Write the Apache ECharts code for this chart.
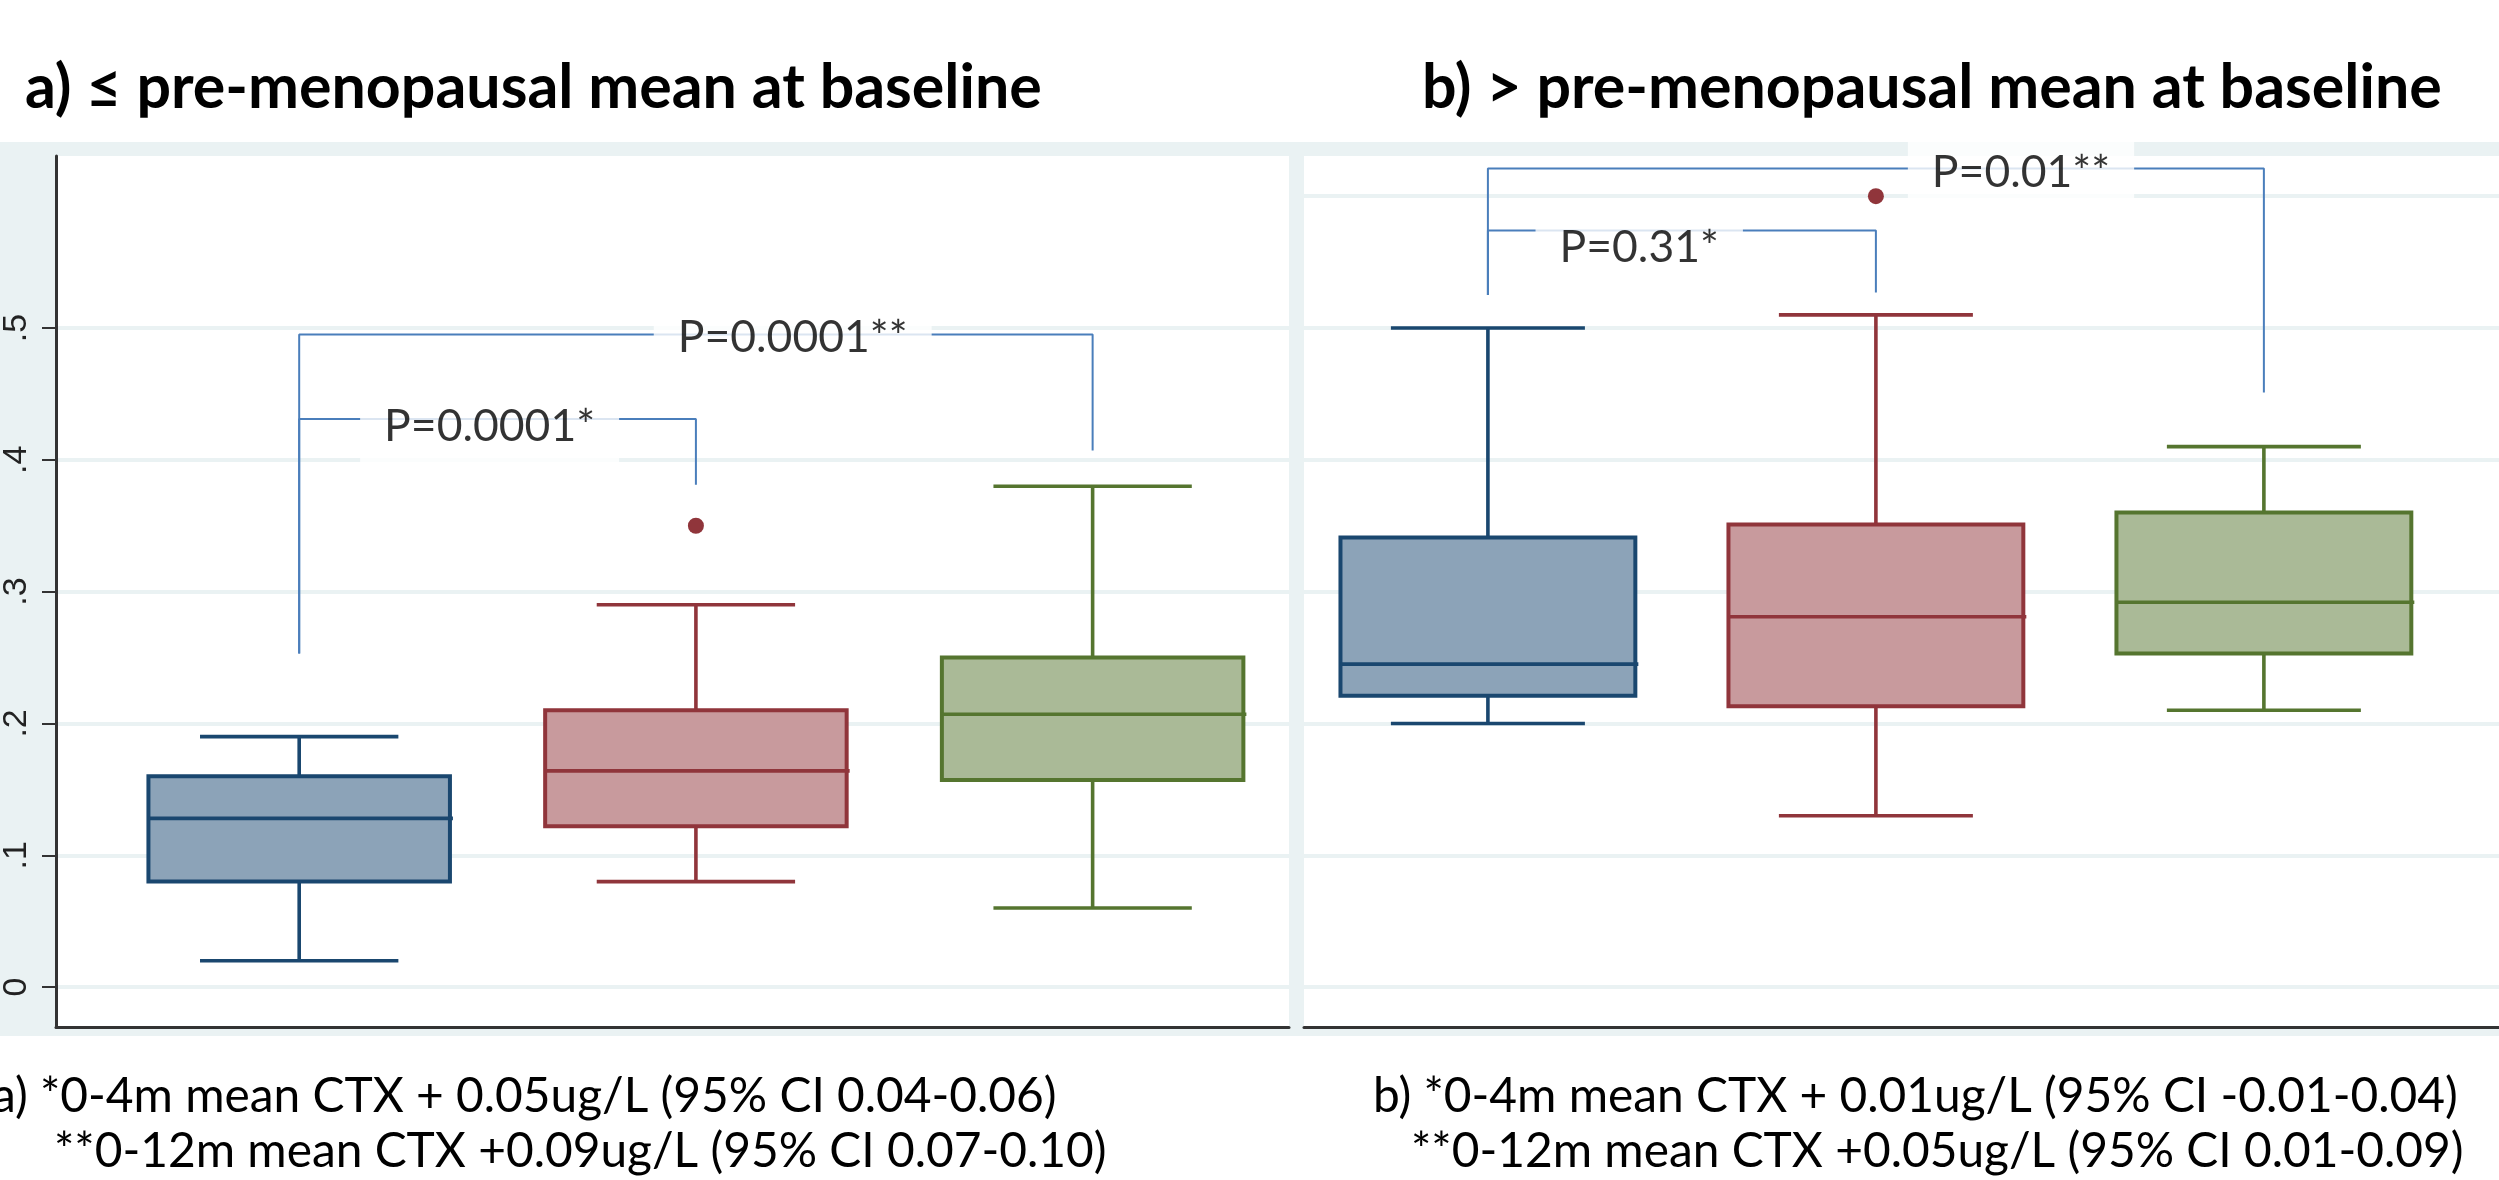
<!DOCTYPE html>
<html><head><meta charset="utf-8">
<script src="https://cdn.jsdelivr.net/npm/echarts@6/dist/echarts.min.js"></script>
<style>html,body{margin:0;padding:0;background:#fff;overflow:hidden}#c{width:2499px;height:1180px}</style>
</head><body><div id="c"></div>
<script>
// ---------------- DATA ----------------
const categories = ['0m', '4m', '12m'];
// each box: [lower whisker, Q1, median, Q3, upper whisker]
const panelA_boxes = [
  [0.02, 0.08, 0.128, 0.16, 0.19],
  [0.08, 0.122, 0.164, 0.21, 0.29],
  [0.06, 0.157, 0.207, 0.25, 0.38]
];
const panelA_outliers = [[1, 0.35]];
const panelB_boxes = [
  [0.20, 0.221, 0.245, 0.341, 0.50],
  [0.13, 0.213, 0.281, 0.351, 0.51],
  [0.21, 0.253, 0.292, 0.36, 0.41]
];
const panelB_outliers = [[1, 0.60]];
const yTicksA = [0, 0.1, 0.2, 0.3, 0.4, 0.5];
const yTickLabelsA = ['0', '.1', '.2', '.3', '.4', '.5'];
const yTicksB = [0, 0.1, 0.2, 0.3, 0.4, 0.5, 0.6];
// brackets: [fromCategory, toCategory, level, fromEnd, toEnd]
const panelA_brackets = [[0, 2, 0.495, 0.253, 0.407], [0, 1, 0.431, 0.253, 0.381]];
const panelB_brackets = [[0, 2, 0.621, 0.525, 0.451], [0, 1, 0.574, 0.525, 0.527]];
const panelA_pTexts = ['P=0.0001**', 'P=0.0001*'];
const panelA_pAt = [[1.244, 0.493], [0.48, 0.425]];
const panelB_pTexts = ['P=0.01**', 'P=0.31*'];
const panelB_pAt = [[1.374, 0.618], [0.39, 0.561]];
const titleA = 'a) \u2264 pre-menopausal mean at baseline';
const titleB = 'b) > pre-menopausal mean at baseline';
const noteA1 = 'a) *0-4m mean CTX + 0.05ug/L (95% CI 0.04-0.06)';
const noteA2 = '**0-12m mean CTX +0.09ug/L (95% CI 0.07-0.10)';
const noteB1 = 'b) *0-4m mean CTX + 0.01ug/L (95% CI -0.01-0.04)';
const noteB2 = '**0-12m mean CTX +0.05ug/L (95% CI 0.01-0.09)';

// ---------------- STYLE ----------------
const boxColors = [
  { fill: '#8ca3b8', stroke: '#1a476f' },
  { fill: '#c89a9d', stroke: '#90353b' },
  { fill: '#aaba97', stroke: '#55752f' }
];
const BOX_W = 0.76, CAP_W = 0.5;
const FONT = 'Lato, "Open Sans", sans-serif';
const ctx = document.createElement('canvas').getContext('2d');
function fit(text, w, weight) { ctx.font = weight + ' 100px ' + FONT; return 100 * w / ctx.measureText(text).width; }
const titleSize = fit(titleA, 1017, 'bold');
const noteSize = fit(noteA1, 1065, 'normal');
const pSize = fit('P=0.0001**', 230, 'normal');

function boxRender(params, api) {
  const i = api.value(0);
  const x = api.coord([i, 0])[0];
  const yMin = api.coord([i, api.value(1)])[1];
  const yQ1 = api.coord([i, api.value(2)])[1];
  const yMd = api.coord([i, api.value(3)])[1];
  const yQ3 = api.coord([i, api.value(4)])[1];
  const yMax = api.coord([i, api.value(5)])[1];
  const hb = api.size([BOX_W, 0])[0] / 2;
  const hc = api.size([CAP_W, 0])[0] / 2;
  const col = boxColors[i];
  const ls = { stroke: col.stroke, lineWidth: 3.6, fill: null };
  return { type: 'group', children: [
    { type: 'line', shape: { x1: x, y1: yQ3, x2: x, y2: yMax }, style: ls },
    { type: 'line', shape: { x1: x - hc, y1: yMax, x2: x + hc, y2: yMax }, style: ls },
    { type: 'line', shape: { x1: x, y1: yQ1, x2: x, y2: yMin }, style: ls },
    { type: 'line', shape: { x1: x - hc, y1: yMin, x2: x + hc, y2: yMin }, style: ls },
    { type: 'rect', shape: { x: x - hb, y: yQ3, width: 2 * hb, height: yQ1 - yQ3 }, style: { fill: col.fill, stroke: col.stroke, lineWidth: 4 } },
    { type: 'line', shape: { x1: x - hb, y1: yMd, x2: x + hb + 3, y2: yMd }, style: ls }
  ] };
}

function panelSeries(idx, boxes, outliers, brackets, pTexts, pAt) {
  const s = [];
  s.push({ type: 'custom', xAxisIndex: idx, yAxisIndex: idx, renderItem: boxRender, silent: true, z: 3,
    data: boxes.map((b, i) => [i].concat(b)), encode: { x: 0, y: [1, 2, 3, 4, 5] } });
  s.push({ type: 'scatter', xAxisIndex: idx, yAxisIndex: idx, symbolSize: 16, silent: true, z: 4,
    itemStyle: { color: '#90353b', opacity: 1 }, data: outliers });
  brackets.forEach(b => {
    s.push({ type: 'line', xAxisIndex: idx, yAxisIndex: idx, symbol: 'none', silent: true, z: 5,
      lineStyle: { color: '#4a7ebb', width: 2 },
      data: [[b[0], b[3]], [b[0], b[2]], [b[1], b[2]], [b[1], b[4]]] });
  });
  s.push({ type: 'scatter', xAxisIndex: idx, yAxisIndex: idx, symbolSize: 0, silent: true, z: 6,
    data: pAt.map((p, i) => ({ value: p, name: pTexts[i] })),
    label: { show: true, position: 'inside', formatter: '{b}', color: '#000', fontFamily: FONT, fontSize: pSize,
      backgroundColor: '#fff', padding: [14, 24, 12, 24] } });
  return s;
}

const axisDark = '#333';
const option = {
  animation: false,
  backgroundColor: '#fff',
  graphic: [
    { type: 'rect', z: -100, shape: { x: 0, y: 142, width: 2499, height: 894 }, style: { fill: '#EAF2F3' } },
    { type: 'text', z: 100, x: 25, y: 88, style: { text: titleA, fontSize: titleSize, fontWeight: 'bold', fontFamily: FONT, fill: '#000', verticalAlign: 'middle' } },
    { type: 'text', z: 100, x: 1422, y: 88, style: { text: titleB, fontSize: titleSize, fontWeight: 'bold', fontFamily: FONT, fill: '#000', verticalAlign: 'middle' } },
    { type: 'text', z: 100, x: -8, y: 1097, style: { text: noteA1, fontSize: noteSize, fontFamily: FONT, fill: '#000', verticalAlign: 'middle' } },
    { type: 'text', z: 100, x: 54, y: 1152, style: { text: noteA2, fontSize: noteSize, fontFamily: FONT, fill: '#000', verticalAlign: 'middle' } },
    { type: 'text', z: 100, x: 1373, y: 1097, style: { text: noteB1, fontSize: noteSize, fontFamily: FONT, fill: '#000', verticalAlign: 'middle' } },
    { type: 'text', z: 100, x: 1411, y: 1152, style: { text: noteB2, fontSize: noteSize, fontFamily: FONT, fill: '#000', verticalAlign: 'middle' } }
  ],
  grid: [
    { left: 52, top: 156, width: 1237, height: 871, show: true, backgroundColor: '#fff', borderWidth: 0 },
    { left: 1304, top: 156, width: 1195, height: 871, show: true, backgroundColor: '#fff', borderWidth: 0 }
  ],
  xAxis: [
    { gridIndex: 0, type: 'value', min: -0.613, max: 2.495,
      axisLine: { show: true, onZero: false, lineStyle: { color: axisDark, width: 3 } },
      axisTick: { show: false }, axisLabel: { show: false }, splitLine: { show: false } },
    { gridIndex: 1, type: 'value', min: -0.474, max: 2.606,
      axisLine: { show: true, onZero: false, lineStyle: { color: axisDark, width: 3 } },
      axisTick: { show: false }, axisLabel: { show: false }, splitLine: { show: false } }
  ],
  yAxis: [
    { gridIndex: 0, type: 'value', min: -0.0303, max: 0.6305,
      axisLine: { show: true, onZero: false, lineStyle: { color: axisDark, width: 3 } },
      axisTick: { show: true, length: 14, customValues: yTicksA, lineStyle: { color: axisDark, width: 2 } },
      axisLabel: { show: true, customValues: yTicksA, rotate: 90, margin: 22, fontSize: 34,
        fontFamily: '"Liberation Sans", Arial, sans-serif', color: '#222',
        formatter: v => yTickLabelsA[Math.round(v * 10)] },
      splitLine: { show: true, lineStyle: { color: '#EAF2F3', width: 4 } } },
    { gridIndex: 1, type: 'value', min: -0.0303, max: 0.6305,
      axisLine: { show: false, onZero: false },
      axisTick: { show: false, customValues: yTicksB },
      axisLabel: { show: false, customValues: yTicksB },
      splitLine: { show: true, lineStyle: { color: '#EAF2F3', width: 4 } } }
  ],
  series: [].concat(
    panelSeries(0, panelA_boxes, panelA_outliers, panelA_brackets, panelA_pTexts, panelA_pAt),
    panelSeries(1, panelB_boxes, panelB_outliers, panelB_brackets, panelB_pTexts, panelB_pAt)
  )
};
const chart = echarts.init(document.getElementById('c'), null, { renderer: 'canvas' });
chart.setOption(option);
</script></body></html>
